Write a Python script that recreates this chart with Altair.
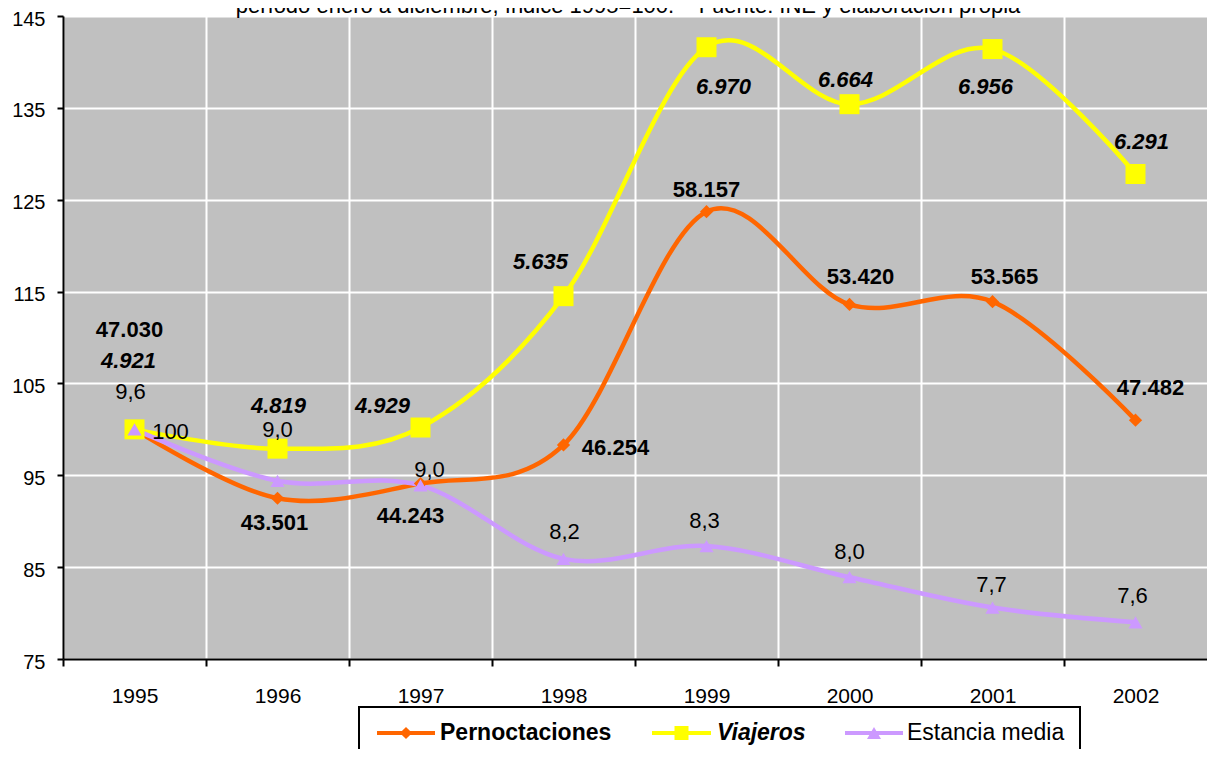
import altair as alt
import pandas as pd

FONT = "Liberation Sans"

years = [1995, 1996, 1997, 1998, 1999, 2000, 2001, 2002]
series_names = ["Pernoctaciones", "Viajeros", "Estancia media"]
series_colors = ["#FF6600", "#FFFF00", "#CC99FF"]
series_shapes = ["diamond", "square", "triangle-up"]
series_sizes = [175, 400, 200]

pern_index = [100, 92.5, 94.1, 98.3, 123.7, 113.6, 113.9, 101.0]
viaj_index = [100, 97.9, 100.2, 114.5, 141.6, 135.4, 141.4, 127.8]
est_index = [100, 94.4, 93.9, 85.9, 87.3, 83.9, 80.6, 79.0]

pern_labels = ["47.030", "43.501", "44.243", "46.254", "58.157", "53.420", "53.565", "47.482"]
viaj_labels = ["4.921", "4.819", "4.929", "5.635", "6.970", "6.664", "6.956", "6.291"]
est_labels = ["9,6", "9,0", "9,0", "8,2", "8,3", "8,0", "7,7", "7,6"]
base_label = ["100"]
base_year = [1995]
base_value = [100]

y_ticks = [75, 85, 95, 105, 115, 125, 135, 145]
title_text = "período enero a diciembre, índice 1995=100.\u00a0\u00a0\u00a0\u00a0Fuente: INE y elaboración propia"

# label placement offsets in pixels (layout only)
pern_dx = [-5, -3, -10, 52, 0, 11, 12, 15]
pern_dy = [-99, 25, 32, 3, -22, -27, -25, -32]
viaj_dx = [-6, 1, -38, -23, 17, -4, -7, 6]
viaj_dy = [-68, -43, -22, -34, 40, -24, 38, -32]
est_dx = [-4, 0, 9, 1, -2, 0, -1, -3]
est_dy = [-37, -51, -15, -27, -25, -25, -23, -26]
base_dx = [36]
base_dy = [3]

# legend layout (pixels relative to plot area)
leg_box = (296, 1017, 691, 771)
leg_y = 717
leg_line_x = [(314, 372), (589, 648), (782, 840)]
leg_text_x = [377, 654, 844]
leg_marker_sizes = [150, 196, 196]
leg_weights = ["bold", "bold", "normal"]
leg_styles = ["normal", "italic", "normal"]


def frame(name, values, labels):
    return pd.DataFrame({"year": years, "serie": name, "value": values, "label": labels})


pern_df = frame("Pernoctaciones", pern_index, pern_labels)
viaj_df = frame("Viajeros", viaj_index, viaj_labels)
est_df = frame("Estancia media", est_index, est_labels)
base_df = pd.DataFrame({"year": base_year, "value": base_value, "label": base_label})

W, H = 1144, 643
band = W / len(years)

x_enc = alt.X(
    "year:Q",
    scale=alt.Scale(domain=[years[0] - 0.5, years[-1] + 0.5], nice=False, zero=False),
    axis=alt.Axis(
        title=None, values=[y - 0.5 for y in years],
        labelExpr="format(datum.value + 0.5, 'd')", labelOffset=band / 2,
        labelFlush=False, labelOverlap=False, labelBound=False,
        labelFont=FONT, labelFontSize=21, labelColor="black", labelPadding=19,
        tickSize=7, tickWidth=2, tickColor="black",
        domainColor="black", domainWidth=2,
        grid=True, gridColor="white", gridWidth=2, gridOpacity=1,
    ),
)
y_enc = alt.Y(
    "value:Q",
    scale=alt.Scale(domain=[y_ticks[0], y_ticks[-1]], nice=False, zero=False),
    axis=alt.Axis(
        title=None, values=y_ticks, labelOverlap=False, labelFlush=False,
        labelFont=FONT, labelFontSize=20, labelColor="black", labelPadding=12,
        labelOffset=3,
        tickSize=6, tickWidth=2, tickColor="black",
        domainColor="black", domainWidth=2,
        grid=True, gridColor="white", gridWidth=2, gridOpacity=1,
    ),
)

series_dfs = [pern_df, viaj_df, est_df]

layers = []
# lines and markers, series by series
for df, col in zip(series_dfs, series_colors):
    layers.append(
        alt.Chart(df).mark_line(interpolate="cardinal", strokeWidth=4.5, color=col)
        .encode(x=x_enc, y=y_enc)
    )
for df, col, shp, sz in zip(series_dfs, series_colors, series_shapes, series_sizes):
    layers.append(
        alt.Chart(df).mark_point(filled=True, opacity=1, color=col, shape=shp, size=sz, strokeWidth=0)
        .encode(x=x_enc, y=y_enc)
    )


def label_layers(df, dxs, dys, weight, style):
    out = []
    for i in range(len(df)):
        out.append(
            alt.Chart(df.iloc[[i]]).mark_text(
                font=FONT, fontSize=22, fontWeight=weight, fontStyle=style,
                color="black", align="center", baseline="middle", dx=dxs[i], dy=dys[i],
            ).encode(x=x_enc, y=y_enc, text="label:N")
        )
    return out


layers += label_layers(pern_df, pern_dx, pern_dy, "bold", "normal")
layers += label_layers(viaj_df, viaj_dx, viaj_dy, "bold", "italic")
layers += label_layers(est_df, est_dx, est_dy, "normal", "normal")
layers += label_layers(base_df, base_dx, base_dy, "normal", "normal")

# title (partially cut at the top, like the reference)
title_df = pd.DataFrame({"t": [title_text]})
layers.append(
    alt.Chart(title_df).mark_text(font=FONT, fontSize=22, color="black", align="center",
                                  baseline="alphabetic")
    .encode(x=alt.value(W / 2 - 7), y=alt.value(-3), text="t:N")
)

# legend drawn by hand
one = pd.DataFrame({"k": [0]})
layers.append(
    alt.Chart(one).mark_rect(fill="white", stroke="black", strokeWidth=2)
    .encode(x=alt.value(leg_box[0]), x2=alt.value(leg_box[1]),
            y=alt.value(leg_box[2]), y2=alt.value(leg_box[3]))
)
for i, name in enumerate(series_names):
    layers.append(
        alt.Chart(one).mark_rule(color=series_colors[i], strokeWidth=4)
        .encode(x=alt.value(leg_line_x[i][0]), x2=alt.value(leg_line_x[i][1]), y=alt.value(leg_y))
    )
    layers.append(
        alt.Chart(one).mark_point(filled=True, opacity=1, color=series_colors[i],
                                  shape=series_shapes[i], size=leg_marker_sizes[i], strokeWidth=0)
        .encode(x=alt.value((leg_line_x[i][0] + leg_line_x[i][1]) / 2), y=alt.value(leg_y))
    )
    name_df = pd.DataFrame({"n": [name]})
    layers.append(
        alt.Chart(name_df).mark_text(font=FONT, fontSize=23, fontWeight=leg_weights[i],
                                     fontStyle=leg_styles[i], color="black",
                                     align="left", baseline="middle")
        .encode(x=alt.value(leg_text_x[i]), y=alt.value(leg_y), text="n:N")
    )

chart = alt.layer(*layers).properties(
    width=W, height=H,
    autosize=alt.AutoSizeParams(type="none"),
    padding={"left": 55, "top": 8, "right": 0, "bottom": 90},
).configure_view(fill="#C0C0C0", strokeWidth=0)

chart.save("out.html", embed_options={"renderer": "svg", "actions": False})
